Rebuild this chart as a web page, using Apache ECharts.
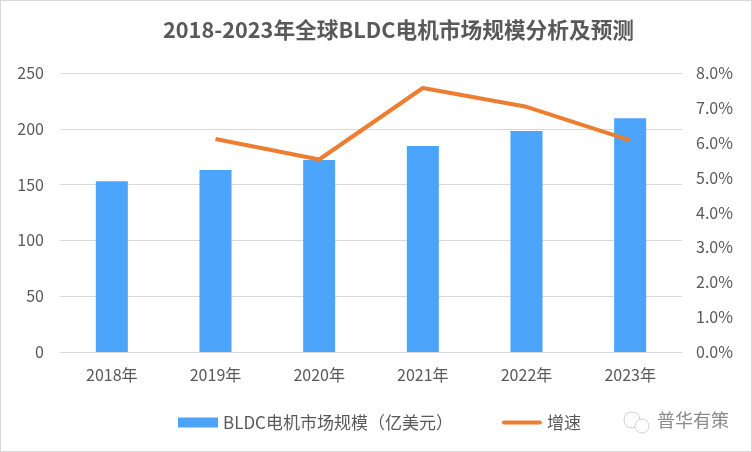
<!DOCTYPE html>
<html><head><meta charset="utf-8">
<script src="https://cdn.jsdelivr.net/npm/echarts@6/dist/echarts.min.js"></script>
<style>html,body{margin:0;padding:0;background:#fff}#c{width:750px;height:450px;border:1px solid #d9d9d9}</style>
</head><body><div id="c"></div>
<script>
const categories = ['2018年','2019年','2020年','2021年','2022年','2023年'];
const marketSize = [153, 163, 172, 184.5, 198, 209.5];
const growthRate = [null, 6.11, 5.52, 7.57, 7.03, 6.07];
const leftTicks = {min:0, max:250, interval:50};
const rightTicks = {min:0, max:8, interval:1};
const font = '"Noto Sans CJK SC","Noto Sans",sans-serif';
const chart = echarts.init(document.getElementById('c'));
chart.setOption({
  animation:false,
  textStyle:{fontFamily:font},
  title:{text:'2018-2023年全球BLDC电机市场规模分析及预测', left:157, top:13,
    textStyle:{fontSize:21.7, fontWeight:'bold', color:'#595959', fontFamily:font}},
  grid:{left:59, right:69, top:72, bottom:99},
  legend:{left:172, top:408, itemWidth:40, itemHeight:10, itemGap:49,
    textStyle:{fontSize:17, color:'#595959', fontFamily:font},
    data:[{name:'BLDC电机市场规模（亿美元）', icon:'rect'},
          {name:'增速', icon:'path://M2,0 L38,0 A2,2 0 0 1 38,4 L2,4 A2,2 0 0 1 2,0 Z'}]},
  xAxis:{type:'category', data:categories,
    axisLine:{lineStyle:{color:'#d9d9d9', width:1}}, axisTick:{show:false},
    axisLabel:{fontSize:16, color:'#595959', margin:15}},
  yAxis:[
    {type:'value', min:leftTicks.min, max:leftTicks.max, interval:leftTicks.interval,
     axisLabel:{fontSize:16, color:'#595959', margin:16},
     splitLine:{lineStyle:{color:'#d9d9d9', width:1}}, axisLine:{show:false}},
    {type:'value', min:rightTicks.min, max:rightTicks.max, interval:rightTicks.interval,
     axisLabel:{fontSize:16, color:'#595959', margin:14, formatter:v=>v.toFixed(1)+'%'},
     splitLine:{show:false}, axisLine:{show:false}}
  ],
  series:[
    {name:'BLDC电机市场规模（亿美元）', type:'bar', data:marketSize, barWidth:32,
     itemStyle:{color:'#4BA3FA'}},
    {name:'增速', type:'line', yAxisIndex:1, data:growthRate, symbol:'none',
     lineStyle:{color:'#ED7D31', width:4}, itemStyle:{color:'#ED7D31'}}
  ],
  graphic:[
    {type:'circle', shape:{cx:631, cy:419, r:8}, style:{fill:'none', stroke:'#d0d0d0', lineWidth:1}},
    {type:'circle', shape:{cx:641, cy:425, r:7}, style:{fill:'#fff', stroke:'#d0d0d0', lineWidth:1}},
    {type:'text', left:656, top:410, style:{text:'普华有策', fontSize:18, fill:'#8c8c8c', fontFamily:font}}
  ]
});
</script></body></html>
